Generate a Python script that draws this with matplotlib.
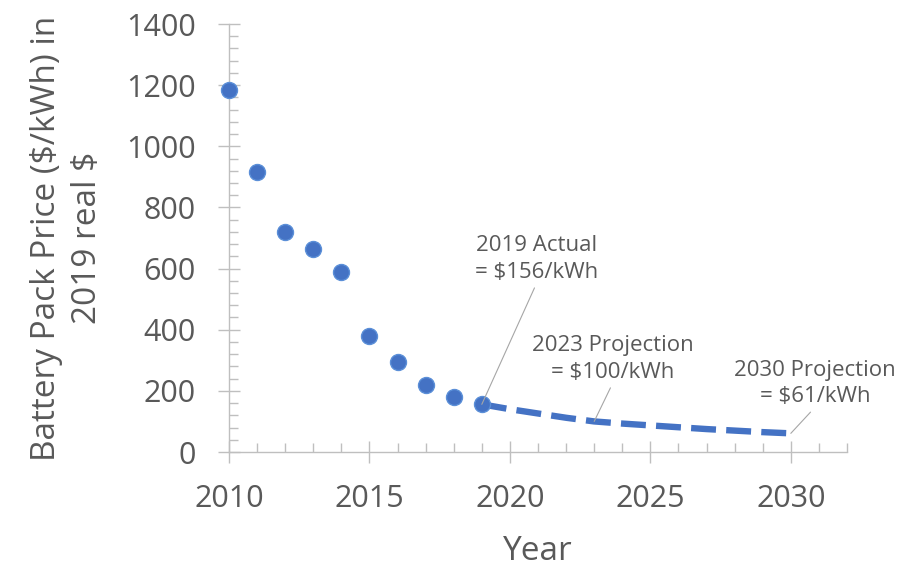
import matplotlib
matplotlib.use("Agg")
import matplotlib.pyplot as plt
from matplotlib.ticker import MultipleLocator

plt.rcParams['font.family'] = ['Open Sans', 'DejaVu Sans']

# Historical battery pack prices (real 2019 $/kWh)
actual_years = [2010, 2011, 2012, 2013, 2014, 2015, 2016, 2017, 2018, 2019]
actual_prices = [1183, 917, 721, 663, 588, 381, 293, 219, 180, 156]

# Projected price path
proj_years = [2019, 2020, 2021, 2022, 2023, 2024, 2025, 2026, 2027, 2028, 2029, 2030]
proj_prices = [156, 140, 126, 112, 100, 93, 87, 81, 75, 70, 65, 61]

# Callouts: (year, price, text, text position in data coords)
callouts = [
    (2019, 156, "2019 Actual\n= $156/kWh", (2020.96, 632)),
    (2023, 100, "2023 Projection\n= $100/kWh", (2023.67, 305)),
    (2030, 61, "2030 Projection\n= $61/kWh", (2030.86, 224)),
]

text_color = '#595959'
axis_color = '#bfbfbf'
blue = '#4472C4'

fig = plt.figure(figsize=(9.1, 5.68), dpi=100)
ax = fig.add_axes([229 / 910, 1 - 452 / 568, (847 - 229) / 910, (452 - 24) / 568])

ax.plot(proj_years, proj_prices, color=blue, lw=4.6, dashes=(3.9, 1.6),
        solid_capstyle='butt', dash_capstyle='butt', zorder=2)
ax.plot(actual_years, actual_prices, linestyle='none', marker='o', markersize=11.5,
        markerfacecolor=blue, markeredgecolor='#5b8fd8', markeredgewidth=1.0,
        zorder=3, clip_on=False)

for yr, price, label, (tx, ty) in callouts:
    ax.annotate(label, xy=(yr, price), xytext=(tx, ty), textcoords='data',
                ha='center', va='center', fontsize=16, color=text_color,
                linespacing=1.35,
                arrowprops=dict(arrowstyle='-', color='#a6a6a6', lw=0.8,
                                shrinkA=2, shrinkB=0, relpos=(0.5, 0.0)),
                zorder=4)

ax.set_xlim(2010, 2032)
ax.set_ylim(0, 1400)
ax.xaxis.set_major_locator(MultipleLocator(5))
ax.xaxis.set_minor_locator(MultipleLocator(1))
ax.yaxis.set_major_locator(MultipleLocator(200))
ax.yaxis.set_minor_locator(MultipleLocator(40))

for side in ('top', 'right'):
    ax.spines[side].set_visible(False)
for side in ('left', 'bottom'):
    ax.spines[side].set_color(axis_color)
    ax.spines[side].set_linewidth(1.0)

ax.tick_params(which='major', direction='inout', length=16, width=1.0,
               color=axis_color, labelsize=22, labelcolor=text_color)
ax.tick_params(which='minor', direction='in', length=6.5, width=1.0, color=axis_color)
ax.tick_params(axis='y', which='major', pad=16)
ax.tick_params(axis='x', which='major', pad=15)

ax.set_xlabel('Year', fontsize=24, color=text_color, labelpad=15)
ax.set_ylabel('Battery Pack Price ($/kWh) in\n2019 real $', fontsize=24,
              color=text_color, labelpad=16, linespacing=1.3)

fig.savefig('out.png', dpi=100)
